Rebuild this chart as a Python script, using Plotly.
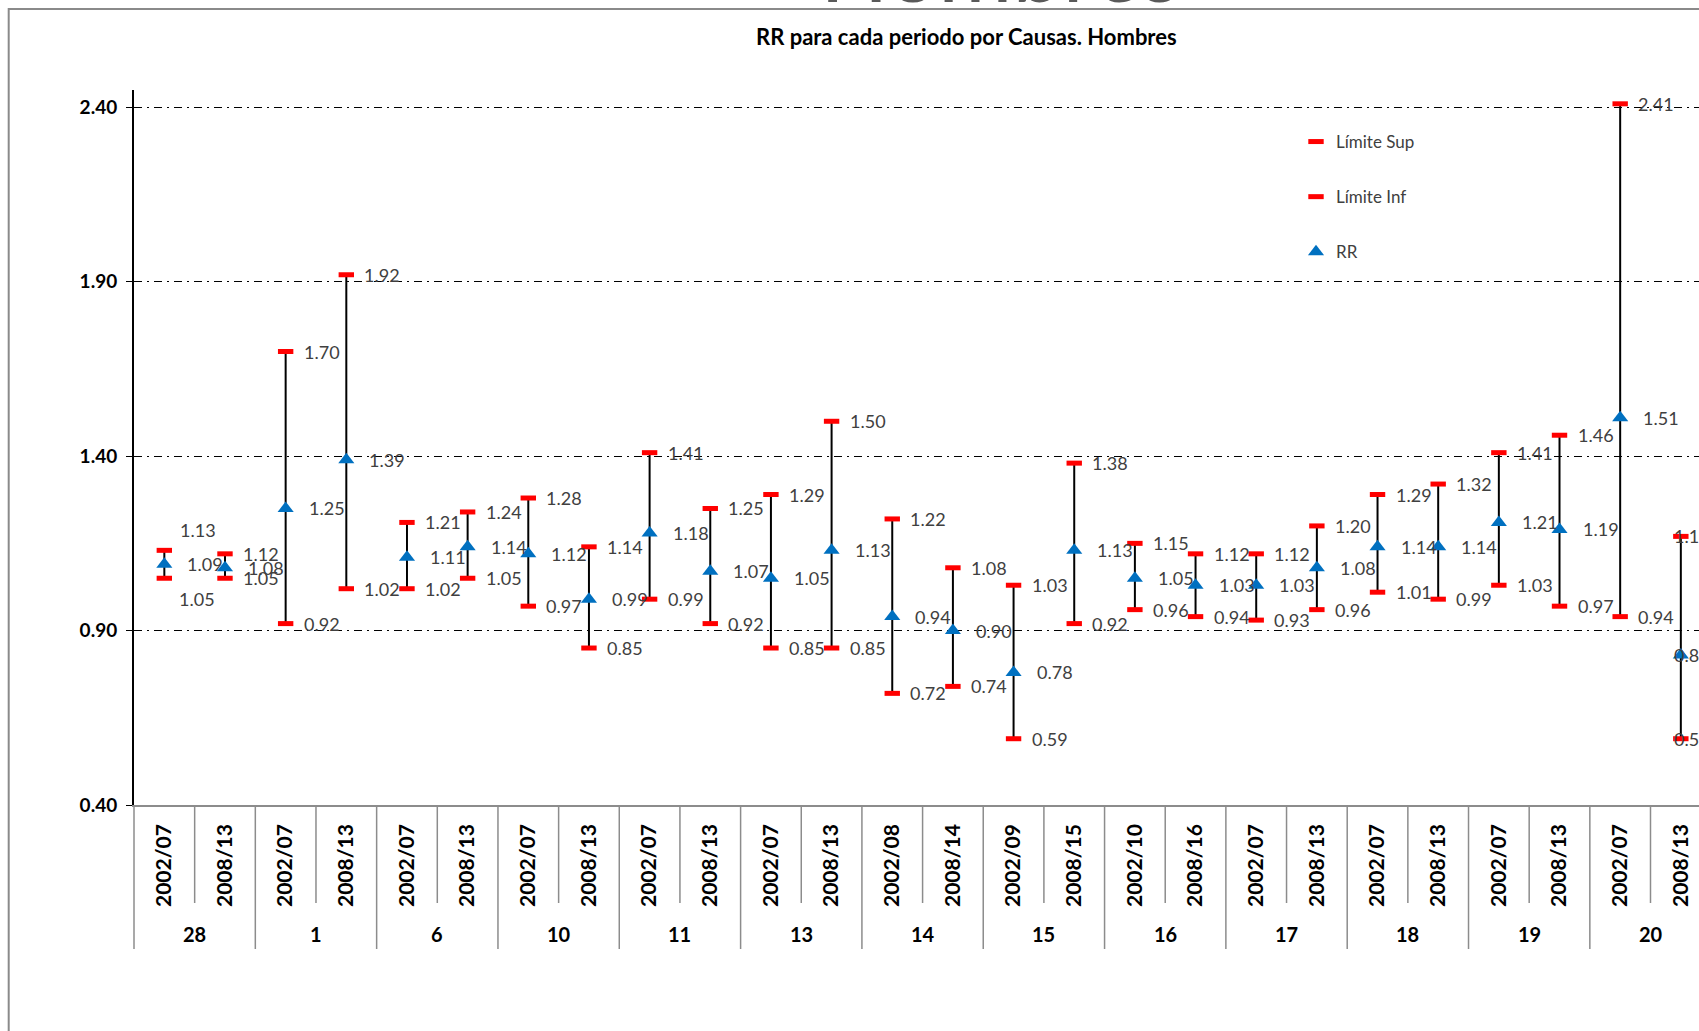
import plotly.graph_objects as go

# ---------------- data ----------------
groups = ["28", "1", "6", "10", "11", "13", "14", "15", "16", "17", "18", "19", "20"]
periods = ["2002/07", "2008/13", "2002/07", "2008/13", "2002/07", "2008/13",
           "2002/07", "2008/13", "2002/07", "2008/13", "2002/07", "2008/13",
           "2002/08", "2008/14", "2002/09", "2008/15", "2002/10", "2008/16",
           "2002/07", "2008/13", "2002/07", "2008/13", "2002/07", "2008/13",
           "2002/07", "2008/13"]
rr = [1.09, 1.08, 1.25, 1.39, 1.11, 1.14, 1.12, 0.99, 1.18, 1.07, 1.05, 1.13,
      0.94, 0.90, 0.78, 1.13, 1.05, 1.03, 1.03, 1.08, 1.14, 1.14, 1.21, 1.19,
      1.51, 0.83]
lim_sup = [1.13, 1.12, 1.70, 1.92, 1.21, 1.24, 1.28, 1.14, 1.41, 1.25, 1.29, 1.50,
           1.22, 1.08, 1.03, 1.38, 1.15, 1.12, 1.12, 1.20, 1.29, 1.32, 1.41, 1.46,
           2.41, 1.17]
lim_inf = [1.05, 1.05, 0.92, 1.02, 1.02, 1.05, 0.97, 0.85, 0.99, 0.92, 0.85, 0.85,
           0.72, 0.74, 0.59, 0.92, 0.96, 0.94, 0.93, 0.96, 1.01, 0.99, 1.03, 0.97,
           0.94, 0.59]
y_ticks = [0.40, 0.90, 1.40, 1.90, 2.40]

# ---------------- layout constants ----------------
W, H = 1699, 1031
ML, MT, MB = 134, 90, 226
PW = W - ML
PH = H - MT - MB
CAT_W = 60.66  # px per category


def px_x(px):
    return (px - ML) / PW


def px_y(py):
    return (H - MB - py) / PH


RED = "#FF0000"
BLUE = "#0070C0"
GRAY = "#8C8C8C"
LABEL = "#404040"
FONT = "Lato"

n = len(periods)
idx = list(range(n))

fig = go.Figure()

fig.add_trace(go.Scatter(
    x=idx, y=rr, mode="markers", name="RR",
    marker=dict(symbol="triangle-up", size=14, color=BLUE),
    error_y=dict(type="data", symmetric=False,
                 array=[s - r for s, r in zip(lim_sup, rr)],
                 arrayminus=[r - i for r, i in zip(rr, lim_inf)],
                 color="black", thickness=2, width=0),
    legendgroup="rr", legendrank=3, cliponaxis=False, hoverinfo="skip"))

fig.add_trace(go.Scatter(
    x=idx, y=lim_sup, mode="markers", name="Límite Sup",
    marker=dict(symbol="line-ew", size=11, color=RED, line=dict(color=RED, width=5)),
    legendgroup="sup", legendrank=1, cliponaxis=False, hoverinfo="skip"))

fig.add_trace(go.Scatter(
    x=idx, y=lim_inf, mode="markers", name="Límite Inf",
    marker=dict(symbol="line-ew", size=11, color=RED, line=dict(color=RED, width=5)),
    legendgroup="inf", legendrank=2, cliponaxis=False, hoverinfo="skip"))

# ---------------- data labels ----------------
LABEL_DX = {"sup": 16, "inf": 16, "rr": 21}
LABEL_NUDGE = {(0, "sup"): (-2, 20), (0, "inf"): (-3, -21),
               (25, "sup"): (-25, 0), (25, "rr"): (-30, 0), (25, "inf"): (-25, 0)}
annotations = []
for key, series in (("sup", lim_sup), ("rr", rr), ("inf", lim_inf)):
    for i, v in enumerate(series):
        dx, dy = LABEL_NUDGE.get((i, key), (0, 0))
        annotations.append(dict(
            x=i, y=v, xref="x", yref="y", text=f"{v:.2f}", showarrow=False,
            xanchor="left", yanchor="middle", xshift=LABEL_DX[key] + dx, yshift=dy,
            font=dict(family=FONT, size=18, color=LABEL)))

# group labels
for g, name in enumerate(groups):
    annotations.append(dict(
        x=2 * g + 0.5, y=px_y(934), xref="x", yref="paper", text=f"<b>{name}</b>",
        showarrow=False, xanchor="center", yanchor="middle",
        font=dict(family=FONT, size=20, color="black")))

# chart title
annotations.append(dict(
    x=px_x(966), y=px_y(36), xref="paper", yref="paper",
    text="<b>RR para cada periodo por Causas. Hombres</b>", showarrow=False,
    xanchor="center", yanchor="middle", font=dict(family=FONT, size=22, color="black")))

# large heading cut by top edge
annotations.append(dict(
    x=px_x(1000), y=px_y(23), xref="paper", yref="paper", text="Hombres",
    showarrow=False, xanchor="center", yanchor="bottom",
    font=dict(family=FONT, size=90, color="#595959")))

# ---------------- dividers & border ----------------
shapes = []
for b in range(n + 1):
    is_group = (b % 2 == 0)
    length = (949 - 805) / PH if is_group else (903 - 805) / PH
    if b == 0:
        shapes.append(dict(type="line", xref="paper", yref="paper", x0=0, x1=0,
                           y0=0, y1=-length, line=dict(color=GRAY, width=1.5)))
    else:
        shapes.append(dict(type="line", xref="x", yref="paper", x0=b - 0.5, x1=b - 0.5,
                           y0=0, y1=-length, line=dict(color=GRAY, width=1.5)))

shapes.append(dict(type="rect", xref="paper", yref="paper",
                   x0=px_x(8.7), x1=1.2, y0=-0.6, y1=px_y(9),
                   line=dict(color="#8A8A8A", width=2), fillcolor="rgba(0,0,0,0)",
                   layer="below"))

fig.update_layout(
    width=W, height=H, autosize=False,
    margin=dict(l=ML, r=0, t=MT, b=MB, pad=0),
    paper_bgcolor="white", plot_bgcolor="white",
    font=dict(family=FONT, color="black"),
    showlegend=True,
    legend=dict(x=px_x(1296), y=px_y(124), xanchor="left", yanchor="top",
                bgcolor="rgba(0,0,0,0)", font=dict(family=FONT, size=17, color=LABEL),
                tracegroupgap=30, traceorder="grouped", itemwidth=30),
    annotations=annotations,
    shapes=shapes,
    xaxis=dict(range=[-0.5, -0.5 + PW / CAT_W], tickmode="array", tickvals=idx,
               ticktext=periods, tickangle=-90, showgrid=False, zeroline=False,
               showline=True, linecolor=GRAY, linewidth=1.5, ticks="",
               ticklabelstandoff=9,
               tickfont=dict(family=FONT, size=21, color="black", weight=700)),
    yaxis=dict(range=[0.40, 2.4496], tickmode="array", tickvals=y_ticks,
               tickformat=".2f", showgrid=True, gridcolor="black", gridwidth=1,
               griddash="8px,5px,2px,5px", zeroline=False, showline=True,
               linecolor="black", linewidth=2, ticks="outside", ticklen=6,
               tickcolor="black", tickwidth=1, ticklabelstandoff=5,
               tickfont=dict(family=FONT, size=19, color="black", weight=700)),
)

fig.write_html("out.html", config={"displayModeBar": False},
               post_script="document.body.style.margin='0';")
